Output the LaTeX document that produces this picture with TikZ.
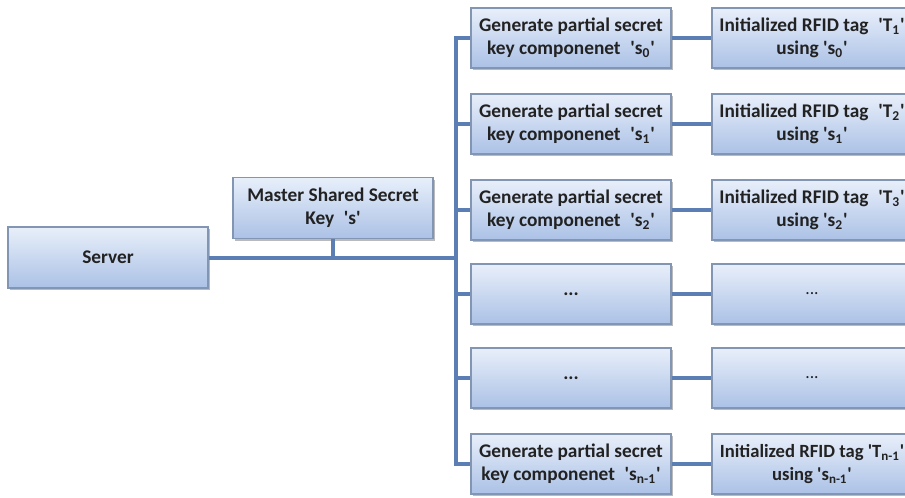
\documentclass[tikz,border=0pt]{standalone}
\usepackage{fontspec}
\setmainfont{Carlito}
\usepackage{tikz}
\usetikzlibrary{shadows,calc}
\definecolor{boxtop}{HTML}{E8EFFA}
\definecolor{boxbot}{HTML}{ABC1E6}
\definecolor{boxline}{HTML}{8296B4}
\definecolor{wire}{HTML}{5B7EB5}
\definecolor{ink}{HTML}{222222}
\newcommand{\sq}{\textquotesingle}

\begin{document}
\begin{tikzpicture}[
    blk/.style={draw=boxline, line width=0.6pt, top color=boxtop, bottom color=boxbot, minimum width=4cm, minimum height=1.2cm, align=center, text=ink, font=\bfseries\fontsize{11}{13.3}\selectfont, inner sep=2pt, drop shadow={shadow xshift=1.2pt, shadow yshift=-1.4pt, opacity=0.45, fill=black!60}},
    link/.style={draw=wire, line width=2.4pt}
]
\useasboundingbox (0,0) rectangle (18.1,-9.96);
\begin{scope}
\clip (0,0) rectangle (18.1,-9.96);
\node[blk, minimum height=1.22cm] (srv) at (2.16,-5.15) {Server};
\node[blk, minimum height=1.22cm] (msk) at (6.66,-4.16) {Master Shared Secret\\Key\enspace\sq s\sq};

\node[blk] (g0) at (11.42,-0.76) {Generate partial secret\\key componenet\enspace\sq s\textsubscript{0}\sq};
\node[blk] (g1) at (11.42,-2.48) {Generate partial secret\\key componenet\enspace\sq s\textsubscript{1}\sq};
\node[blk] (g2) at (11.42,-4.2) {Generate partial secret\\key componenet\enspace\sq s\textsubscript{2}\sq};
\node[blk] (g3) at (11.42,-5.88) {...};
\node[blk] (g4) at (11.42,-7.56) {...};
\node[blk] (g5) at (11.42,-9.28) {Generate partial secret\\key componenet\enspace\sq s\textsubscript{n-1}\sq};

\node[blk] (t0) at (16.24,-0.76) {Initialized RFID tag\enspace\sq T\textsubscript{1}\sq\\using \sq s\textsubscript{0}\sq};
\node[blk] (t1) at (16.24,-2.48) {Initialized RFID tag\enspace\sq T\textsubscript{2}\sq\\using \sq s\textsubscript{1}\sq};
\node[blk] (t2) at (16.24,-4.2) {Initialized RFID tag\enspace\sq T\textsubscript{3}\sq\\using \sq s\textsubscript{2}\sq};
\node[blk, font=\normalfont] (t3) at (16.24,-5.88) {...};
\node[blk, font=\normalfont] (t4) at (16.24,-7.56) {...};
\node[blk, font=\bfseries\fontsize{10.6}{13.3}\selectfont] (t5) at (16.24,-9.28) {Initialized RFID tag \sq T\textsubscript{n-1}\sq\\using \sq s\textsubscript{n-1}\sq};
\end{scope}

% trunk and bus
\coordinate (jn) at (9.12,-5.16);
\coordinate (bt) at (9.12,-0.76);
\coordinate (bb) at (9.12,-9.28);
\draw[link] (srv.east |- jn) -- (jn);
\draw[link] (msk.south) -- (msk.south |- jn);
\draw[link, line cap=rect] (bt) -- (bb);
\draw[link] (bt) -- (g0.west);
\draw[link] (bt |- g1.west) -- (g1.west);
\draw[link] (bt |- g2.west) -- (g2.west);
\draw[link] (bt |- g3.west) -- (g3.west);
\draw[link] (bt |- g4.west) -- (g4.west);
\draw[link] (bb) -- (g5.west);
\draw[link] (g0.east) -- (t0.west);
\draw[link] (g1.east) -- (t1.west);
\draw[link] (g2.east) -- (t2.west);
\draw[link] (g3.east) -- (t3.west);
\draw[link] (g4.east) -- (t4.west);
\draw[link] (g5.east) -- (t5.west);
\end{tikzpicture}
\end{document}
